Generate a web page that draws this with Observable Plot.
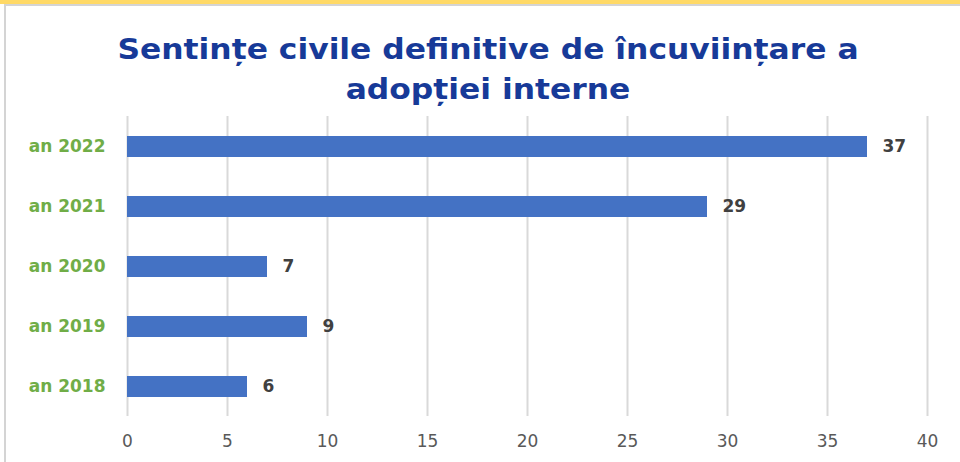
<!DOCTYPE html>
<html>
<head>
<meta charset="utf-8">
<script src="https://cdn.jsdelivr.net/npm/d3@7"></script>
<script src="https://cdn.jsdelivr.net/npm/@observablehq/plot@0.6"></script>
<style>
  html, body { margin: 0; padding: 0; background: #fff; }
  #wrap { position: relative; width: 960px; height: 462px; overflow: hidden; background: #fff; font-family: "DejaVu Sans", Verdana, sans-serif; }
  #band { position: absolute; left: 0; top: 0; width: 960px; height: 4px; background: #FFD966; }
  #topline { position: absolute; left: 4px; top: 4px; width: 956px; height: 2px; background: #d4d4d4; }
  #leftline { position: absolute; left: 4px; top: 4px; width: 2px; height: 458px; background: #d4d4d4; }
  #title { position: absolute; left: 8px; top: 30px; width: 960px; text-align: center; color: #173a98; font-weight: bold; font-size: 28px; line-height: 40px; transform: scaleX(1.12); transform-origin: 480px 0; }
  #chart { position: absolute; left: 0; top: 110px; }
</style>
</head>
<body>
<div id="wrap">
  <div id="band"></div>
  <div id="topline"></div>
  <div id="leftline"></div>
  <div id="title">Sentințe civile definitive de încuviințare a<br>adopției interne</div>
  <div id="chart"></div>
</div>
<script>
const years = ["an 2022", "an 2021", "an 2020", "an 2019", "an 2018"];
const values = [37, 29, 7, 9, 6];
const xTicks = [0, 5, 10, 15, 20, 25, 30, 35, 40];

const data = years.map((y, i) => ({year: y, value: values[i]}));

const chart = Plot.plot({
  width: 960,
  height: 352,
  marginTop: 6,
  marginBottom: 46,
  marginLeft: 127,
  marginRight: 33,
  style: {fontFamily: "DejaVu Sans", background: "transparent"},
  x: {domain: [0, 40], axis: null},
  y: {domain: years, paddingInner: 0.65, paddingOuter: 0.325, axis: null},
  marks: [
    Plot.ruleX(xTicks, {stroke: "#d9d9d9", strokeWidth: 2}),
    Plot.barX(data, {x: "value", y: "year", fill: "#4472C4"}),
    Plot.text(data, {x: "value", y: "year", text: d => String(d.value), dx: 15, textAnchor: "start", fill: "#404040", fontWeight: "bold", fontSize: 17}),
    Plot.axisX({ticks: xTicks, tickSize: 0, tickPadding: 18, fontSize: 17, color: "#595959", label: null}),
    Plot.axisY({tickSize: 0, tickPadding: 22, fontSize: 17, fontWeight: "bold", color: "#70AD47", label: null})
  ]
});
document.getElementById("chart").appendChild(chart);
</script>
</body>
</html>
